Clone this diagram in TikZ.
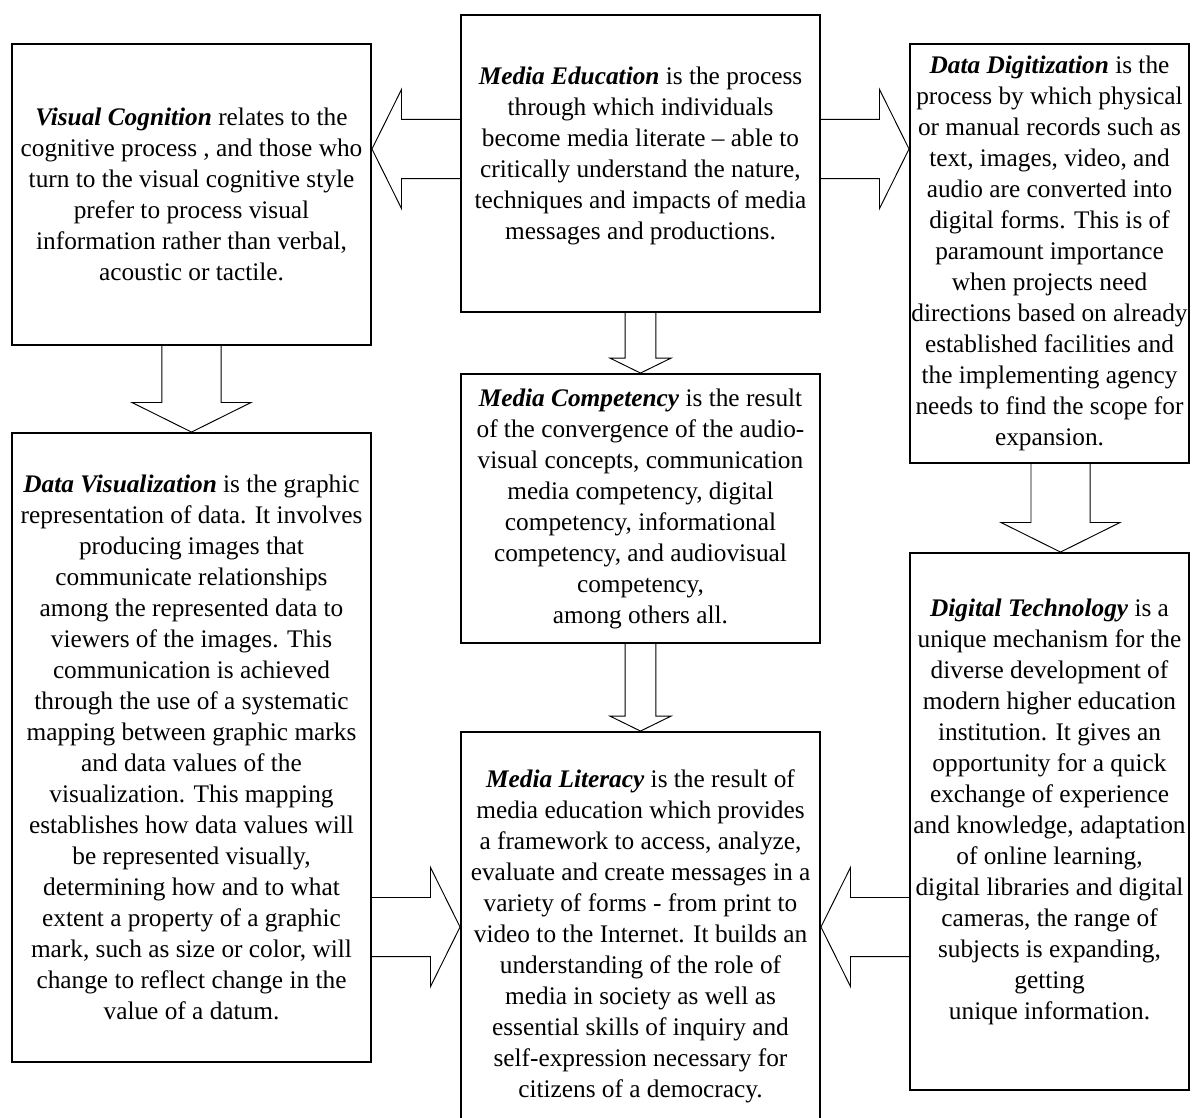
\documentclass[tikz,border=0pt]{standalone}
\usepackage{fontspec}
\setmainfont{Liberation Serif}
\usetikzlibrary{calc}

\tikzset{
  box/.style={draw, line width=0.9pt, inner sep=0pt},
  wide/.style={box, minimum width=359*0.474pt},
  narrow/.style={box, minimum width=279*0.474pt},
  txt/.style={align=center, inner sep=0pt,
    font=\fontsize{12pt}{14.7pt}\selectfont},
  % hollow block arrow from start to target: shaft half, head half, head length
  blockarrow/.style n args={3}{to path={
    let \p1=(\tikztostart), \p2=(\tikztotarget),
        \n1={atan2(\y2-\y1,\x2-\x1)}, \n2={veclen(\x2-\x1,\y2-\y1)-#3} in
    ($(\p1)+({\n1+90}:#1)$) -- ($(\p1)+(\n1:\n2)+({\n1+90}:#1)$)
    -- ($(\p1)+(\n1:\n2)+({\n1+90}:#2)$) -- (\p2)
    -- ($(\p1)+(\n1:\n2)+({\n1-90}:#2)$) -- ($(\p1)+(\n1:\n2)+({\n1-90}:#1)$)
    -- ($(\p1)+({\n1-90}:#1)$)}},
  bigarrow/.style={draw, line width=0.45pt, blockarrow={14pt}{28.2pt}{14pt}},
  smallarrow/.style={draw, line width=0.45pt, blockarrow={7.3pt}{14.5pt}{7.1pt}}
}

\newcommand{\term}[1]{\textbf{\textit{#1}}}

\begin{document}
\begin{tikzpicture}[x=0.474pt,y=-0.474pt]
  \useasboundingbox (0,0) rectangle (1198,1117);
  \clip (0,0) rectangle (1198,1117);

  %% boxes
  \node[wide, minimum height=301*0.474pt] (vc) at (191.5,194.5) {};
  \node[wide, minimum height=297*0.474pt] (me) at (640.5,163.5) {};
  \node[narrow, minimum height=419*0.474pt] (dd) at (1049.5,253.5) {};
  \node[wide, minimum height=269*0.474pt] (mc) at (640.5,508.5) {};
  \node[wide, minimum height=629*0.474pt] (dv) at (191.5,747.5) {};
  \node[wide, minimum height=408*0.474pt] (ml) at (640.5,936) {};
  \node[narrow, minimum height=537*0.474pt] (dt) at (1049.5,821.5) {};

  %% texts
  \node[txt] (vctext) at (vc)
    {\term{Visual Cognition} relates to the\\
     cognitive process , and those who\\
     turn to the visual cognitive style\\
     prefer to process visual\\
     information rather than verbal,\\
     acoustic or tactile.};
  \node[txt, yshift=3.8pt] (metext) at (me)
    {\term{Media Education} is the process\\
     through which individuals\\
     become media literate -- able to\\
     critically understand the nature,\\
     techniques and impacts of media\\
     messages and productions.};
  \node[txt] (ddtext) at (dd)
    {\term{Data Digitization} is the\\
     process by which physical\\
     or manual records such as\\
     text, images, video, and\\
     audio are converted into\\
     digital forms. This is of\\
     paramount importance\\
     when projects need\\
     directions based on already\\
     established facilities and\\
     the implementing agency\\
     needs to find the scope for\\
     expansion.};
  \node[txt] (mctext) at (mc)
    {\term{Media Competency} is the result\\
     of the convergence of the audio-\\
     visual concepts, communication\\
     media competency, digital\\
     competency, informational\\
     competency, and audiovisual\\
     competency,\\
     among others all.};
  \node[txt] (dvtext) at (dv)
    {\term{Data Visualization} is the graphic\\
     representation of data. It involves\\
     producing images that\\
     communicate relationships\\
     among the represented data to\\
     viewers of the images. This\\
     communication is achieved\\
     through the use of a systematic\\
     mapping between graphic marks\\
     and data values of the\\
     visualization. This mapping\\
     establishes how data values will\\
     be represented visually,\\
     determining how and to what\\
     extent a property of a graphic\\
     mark, such as size or color, will\\
     change to reflect change in the\\
     value of a datum.};
  \node[txt] (mltext) at (ml)
    {\term{Media Literacy} is the result of\\
     media education which provides\\
     a framework to access, analyze,\\
     evaluate and create messages in a\\
     variety of forms - from print to\\
     video to the Internet. It builds an\\
     understanding of the role of\\
     media in society as well as\\
     essential skills of inquiry and\\
     self-expression necessary for\\
     citizens of a democracy.};
  \node[txt, yshift=4.7pt] (dttext) at (dt)
    {\term{Digital Technology} is a\\
     unique mechanism for the\\
     diverse development of\\
     modern higher education\\
     institution. It gives an\\
     opportunity for a quick\\
     exchange of experience\\
     and knowledge, adaptation\\
     of online learning,\\
     digital libraries and digital\\
     cameras, the range of\\
     subjects is expanding,\\
     getting\\
     unique information.};

  %% arrows
  \draw[bigarrow] (me.west |- 0,149) to (vc.east |- 0,149);
  \draw[bigarrow] (me.east |- 0,149) to (dd.west |- 0,149);
  \draw[smallarrow] (me.south -| 640.5,0) to (mc.north -| 640.5,0);
  \draw[bigarrow] (vc.south) to (dv.north);
  \draw[bigarrow] (dd.south -| 1060.5,0) to (dt.north -| 1060.5,0);
  \draw[smallarrow] (mc.south -| 640.5,0) to (ml.north -| 640.5,0);
  \draw[bigarrow] (dv.east |- 0,927) to (ml.west |- 0,927);
  \draw[bigarrow] (dt.west |- 0,927) to (ml.east |- 0,927);
\end{tikzpicture}
\end{document}
